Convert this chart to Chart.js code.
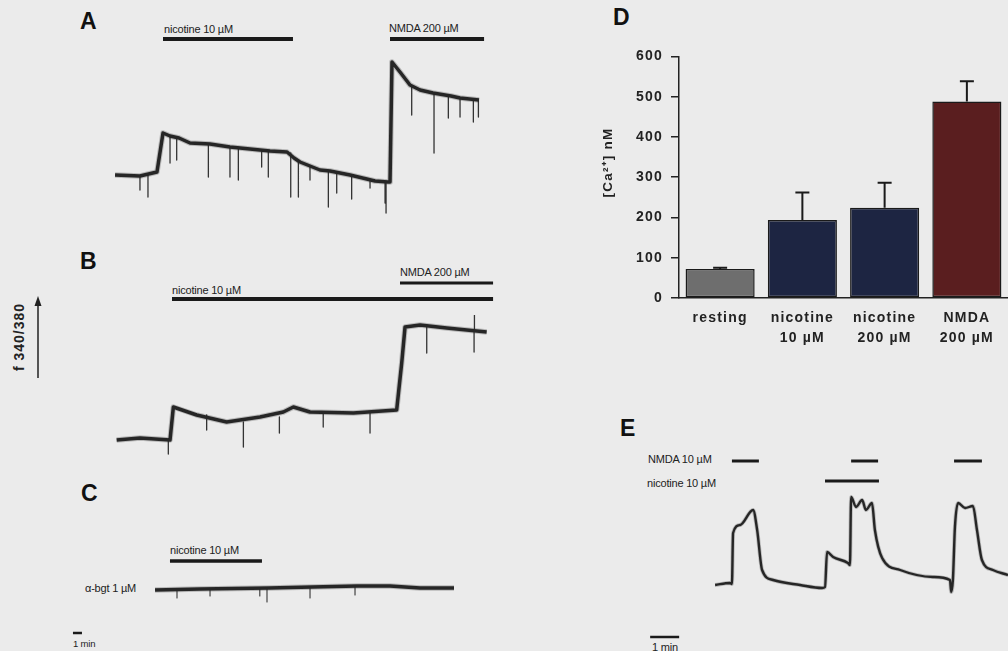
<!DOCTYPE html>
<html>
<head>
<meta charset="utf-8">
<script src="https://cdn.jsdelivr.net/npm/chart.js@4.4.0/dist/chart.umd.min.js"></script>
<style>
  body { margin: 0; background: #ebebeb; }
  #fig { position: relative; width: 1008px; height: 651px; overflow: hidden;
         font-family: "Liberation Sans", Arial, sans-serif; color: #222; }
  #fig canvas { position: absolute; }
  .lbl { position: absolute; font-size: 11px; line-height: 12px; white-space: nowrap; letter-spacing: -0.2px; }
  .pn { position: absolute; font-size: 23px; font-weight: bold; line-height: 1; color: #111; }
</style>
</head>
<body>
<div id="fig">
  <div class="pn" style="left:80px;top:10px">A</div>
  <div class="pn" style="left:80px;top:250px">B</div>
  <div class="pn" style="left:81px;top:482px">C</div>
  <div class="pn" style="left:613px;top:6px">D</div>
  <div class="pn" style="left:620px;top:417px">E</div>

  <div class="lbl" style="left:164px;top:23px">nicotine 10 µM</div>
  <div class="lbl" style="left:389px;top:22px">NMDA 200 µM</div>
  <div class="lbl" style="left:172px;top:284px">nicotine 10 µM</div>
  <div class="lbl" style="left:400px;top:266px">NMDA 200 µM</div>
  <div class="lbl" style="left:170px;top:544px">nicotine 10 µM</div>
  <div class="lbl" style="left:85px;top:582px">α-bgt 1 µM</div>
  <div class="lbl" style="left:73px;top:638px;font-size:9.5px">1 min</div>
  <div class="lbl" style="left:648px;top:453px">NMDA 10 µM</div>
  <div class="lbl" style="left:647px;top:477px">nicotine 10 µM</div>
  <div class="lbl" style="left:652px;top:641px">1 min</div>

  <div class="lbl" style="left:-21px;top:329px;width:80px;height:16px;line-height:16px;text-align:center;font-size:14px;font-weight:bold;letter-spacing:1px;transform:rotate(-90deg)">f 340/380</div>
  <svg style="position:absolute;left:0;top:290px" width="50" height="95">
    <line x1="38" y1="12" x2="38" y2="88" stroke="#222" stroke-width="1.5"/>
    <polygon points="34.5,16 38,6 41.5,16" fill="#222"/>
  </svg>

  <canvas id="traceA" width="400" height="210" style="left:100px;top:20px"></canvas>
  <canvas id="traceB" width="400" height="210" style="left:100px;top:250px"></canvas>
  <canvas id="traceC" width="440" height="111" style="left:60px;top:540px"></canvas>
  <canvas id="traceE" width="368" height="211" style="left:640px;top:440px"></canvas>
  <canvas id="barsD" width="438" height="320" style="left:570px;top:40px"></canvas>
</div>

<script>
// ---- panel D: [Ca2+] nM, mean + SEM
const caLabels = [['resting'], ['nicotine', '10 µM'], ['nicotine', '200 µM'], ['NMDA', '200 µM']];
const caMean = [72, 194, 224, 488];
const caSem = [3, 68, 62, 50];
const caTicks = [0, 100, 200, 300, 400, 500, 600];

// ---- panel A (time in min, f340/380 in arbitrary units)
const aTime = [1.67, 4.44, 6.33, 7.0, 7.78, 8.78, 10.0, 12.22, 14.44, 15.56, 17.78, 18.89, 20.78, 21.56,
  22.22, 24.44, 25.56, 27.78, 30.56, 32.0, 32.22, 32.44, 33.33, 34.44, 35.56, 37.0, 39.0, 40.0, 42.11];
const aRatio = [0.55, 0.54, 0.58, 0.97, 0.94, 0.92, 0.87, 0.86, 0.83, 0.82, 0.80, 0.79, 0.78, 0.72,
  0.68, 0.60, 0.59, 0.55, 0.49, 0.48, 0.48, 1.68, 1.58, 1.45, 1.40, 1.37, 1.34, 1.32, 1.30];
// downward transients: time, tip, level the spike leaves from
const aSpikeTime = [4.44, 5.33, 7.78, 8.52, 12.04, 14.44, 15.37, 17.96, 18.7, 21.19, 22.04, 23.33, 25.37,
  26.3, 27.96, 30.0, 31.67, 31.78, 34.63, 37.11, 38.7, 40.0, 41.48, 42.04];
const aSpikeTip = [0.40, 0.33, 0.67, 0.70, 0.53, 0.53, 0.50, 0.63, 0.53, 0.33, 0.33, 0.50, 0.23,
  0.37, 0.31, 0.42, 0.27, 0.17, 1.15, 0.77, 1.12, 1.13, 1.08, 1.13];
const aSpikeRoot = [0.54, 0.55, 0.94, 0.92, 0.86, 0.83, 0.82, 0.80, 0.79, 0.77, 0.68, 0.64, 0.59,
  0.57, 0.55, 0.50, 0.48, 0.48, 1.44, 1.37, 1.35, 1.32, 1.31, 1.30];
const aNicotine = [7.0, 21.44];
const aNmda = [32.22, 42.67];

// ---- panel B
const bTime = [1.85, 4.44, 7.78, 8.15, 10.74, 14.07, 17.78, 20.37, 21.48, 23.33, 28.15, 32.96, 33.52,
  33.89, 35.56, 38.52, 42.96];
const bRatio = [0.20, 0.22, 0.20, 0.53, 0.45, 0.38, 0.43, 0.48, 0.53, 0.48, 0.47, 0.50, 0.97,
  1.33, 1.35, 1.32, 1.28];
const bSpikeTime = [7.59, 11.85, 15.93, 19.93, 24.8, 30.0, 36.3, 41.56, 41.6];
const bSpikeTip = [0.06, 0.30, 0.13, 0.27, 0.33, 0.27, 1.07, 1.08, 1.45];
const bSpikeRoot = [0.20, 0.45, 0.38, 0.43, 0.47, 0.48, 1.34, 1.30, 1.30];
const bNicotine = [8.0, 43.67];
const bNmda = [33.33, 43.67];

// ---- panel C (alpha-bungarotoxin)
const cTime = [10.56, 15.56, 23.22, 28.0, 33.0, 36.67, 40.0, 43.78];
const cRatio = [0.61, 0.62, 0.63, 0.64, 0.65, 0.65, 0.63, 0.63];
const cSpikeTime = [13.0, 16.67, 22.2, 23.0, 27.78, 32.78];
const cSpikeTip = [0.53, 0.55, 0.55, 0.49, 0.53, 0.56];
const cSpikeRoot = [0.62, 0.62, 0.63, 0.63, 0.64, 0.65];
const cNicotine = [12.22, 22.44];
const cScale = [1.44, 2.44];

// ---- panel E
const eTime = [0.52, 1.03, 1.10, 1.14, 1.38, 1.83, 1.97, 2.14, 2.52, 3.45, 4.21, 4.31, 4.38, 4.59, 5.10,
  5.17, 5.21, 5.38, 5.59, 5.72, 5.93, 6.03, 6.28, 6.90, 8.03, 8.62, 8.66, 8.72, 8.79, 8.90, 9.14,
  9.41, 9.55, 9.72, 10.10, 10.62];
const eRatio = [0.66, 0.68, 0.67, 1.18, 1.26, 1.41, 1.21, 0.81, 0.71, 0.66, 0.63, 0.64, 0.99, 0.94, 0.88,
  0.86, 1.54, 1.44, 1.51, 1.41, 1.48, 1.21, 0.93, 0.81, 0.74, 0.71, 0.59, 0.71, 1.24, 1.48, 1.43,
  1.45, 1.21, 0.91, 0.81, 0.76];
const eNmda = [[1.10, 2.03], [5.21, 6.14], [8.76, 9.72]];
const eNicotine = [4.31, 6.17];
const eScale = [-1.72, -0.72];

function pts(t, v) {
  return t.map(function (x, i) { return { x: x, y: v[i] }; });
}
function spikes(t, tip, root) {
  const out = [];
  t.forEach(function (x, i) {
    out.push({ x: x, y: root[i] }, { x: x, y: tip[i] }, { x: x, y: null });
  });
  return out;
}
function span(s, level) {
  return [{ x: s[0], y: level }, { x: s[1], y: level }];
}
function line(data, w, color) {
  return { data: data, borderColor: color || '#262626', borderWidth: w, pointRadius: 0,
           borderCapStyle: 'butt', borderJoinStyle: 'round', spanGaps: false, clip: false };
}
// a trace = faint noise band + core line
function band(data, w, core) {
  return [line(data, w, 'rgba(40,40,40,0.25)'), line(data, core)];
}

function trace(id, xr, yr, sets) {
  new Chart(document.getElementById(id), {
    type: 'line',
    data: { datasets: sets },
    options: {
      animation: false,
      responsive: false,
      layout: { padding: 0 },
      plugins: { legend: { display: false }, tooltip: { enabled: false } },
      scales: {
        x: { type: 'linear', display: false, min: xr[0], max: xr[1] },
        y: { display: false, min: yr[0], max: yr[1] }
      }
    }
  });
}

trace('traceA', [0, 44.44], [0, 2.1], band(pts(aTime, aRatio), 5.5, 3.5).concat([
  line(spikes(aSpikeTime, aSpikeTip, aSpikeRoot), 1.3, '#333'),
  line(span(aNicotine, 1.91), 4, '#1a1a1a'),
  line(span(aNmda, 1.91), 4, '#1a1a1a')
]));

trace('traceB', [0, 44.44], [0, 2.1], band(pts(bTime, bRatio), 5.5, 3.5).concat([
  line(spikes(bSpikeTime, bSpikeTip, bSpikeRoot), 1.3, '#333'),
  line(span(bNicotine, 1.61), 4, '#1a1a1a'),
  line(span(bNmda, 1.77), 3, '#1a1a1a')
]));

trace('traceC', [0, 48.89], [0, 1.11], band(pts(cTime, cRatio), 5.5, 3.5).concat([
  line(spikes(cSpikeTime, cSpikeTip, cSpikeRoot), 1.2, '#444'),
  line(span(cNicotine, 0.90), 3.5, '#1a1a1a'),
  line(span(cScale, 0.18), 2.5, '#1a1a1a')
]));

const eSets = band(pts(eTime, eRatio), 4, 2.4);
eSets.forEach(function (d) { d.cubicInterpolationMode = 'monotone'; });
eNmda.forEach(function (s) { eSets.push(line(span(s, 1.90), 3, '#1a1a1a')); });
eSets.push(line(span(eNicotine, 1.70), 3, '#1a1a1a'));
eSets.push(line(span(eScale, 0.14), 2.5, '#1a1a1a'));
trace('traceE', [-2.07, 10.62], [0, 2.11], eSets);

// error bars on top of the bars
const errorBars = {
  id: 'errorBars',
  afterDatasetsDraw(chart) {
    const ctx = chart.ctx;
    const y = chart.scales.y;
    ctx.save();
    ctx.strokeStyle = '#1a1a1a';
    ctx.lineWidth = 2;
    chart.getDatasetMeta(0).data.forEach(function (bar, i) {
      const top = y.getPixelForValue(caMean[i] + caSem[i]);
      ctx.beginPath();
      ctx.moveTo(bar.x, bar.y);
      ctx.lineTo(bar.x, top);
      ctx.moveTo(bar.x - 7, top);
      ctx.lineTo(bar.x + 7, top);
      ctx.stroke();
    });
    ctx.restore();
  }
};

const spacing = {
  id: 'spacing',
  beforeDraw(chart) { chart.ctx.letterSpacing = '1.2px'; }
};

new Chart(document.getElementById('barsD'), {
  type: 'bar',
  data: {
    labels: caLabels,
    datasets: [{
      data: caMean,
      backgroundColor: ['#6e6e6e', '#1d2542', '#1d2542', '#5a1e1f'],
      borderColor: '#1a1a1a',
      borderWidth: 1.5,
      borderSkipped: false,
      barPercentage: 0.84,
      categoryPercentage: 1
    }]
  },
  options: {
    animation: false,
    responsive: false,
    layout: { padding: { top: 15, right: 0, left: 0, bottom: 0 } },
    plugins: { legend: { display: false }, tooltip: { enabled: false } },
    scales: {
      x: {
        grid: { display: false },
        border: { display: true, color: '#222', width: 1.5 },
        ticks: { color: '#222', padding: 2, font: { family: 'Liberation Sans', size: 14, weight: 'bold', lineHeight: 1.43 } },
        afterFit(s) { s.height = 62; }
      },
      y: {
        min: 0,
        max: 600,
        afterBuildTicks(s) { s.ticks = caTicks.map(function (v) { return { value: v }; }); },
        grid: { drawOnChartArea: false, drawTicks: true, tickLength: 8, color: '#222', lineWidth: 1.5 },
        border: { display: true, color: '#222', width: 1.5 },
        ticks: { color: '#222', padding: 8, font: { family: 'Liberation Sans', size: 14, weight: 'bold' } },
        title: { display: true, text: '\u2003\u2003[Ca²⁺] nM', color: '#222', padding: { top: 30, bottom: 0 },
                 font: { family: 'Liberation Sans', size: 13.5, weight: 'bold' } },
        afterFit(s) { s.width = 109; }
      }
    }
  },
  plugins: [errorBars, spacing]
});
</script>
</body>
</html>
